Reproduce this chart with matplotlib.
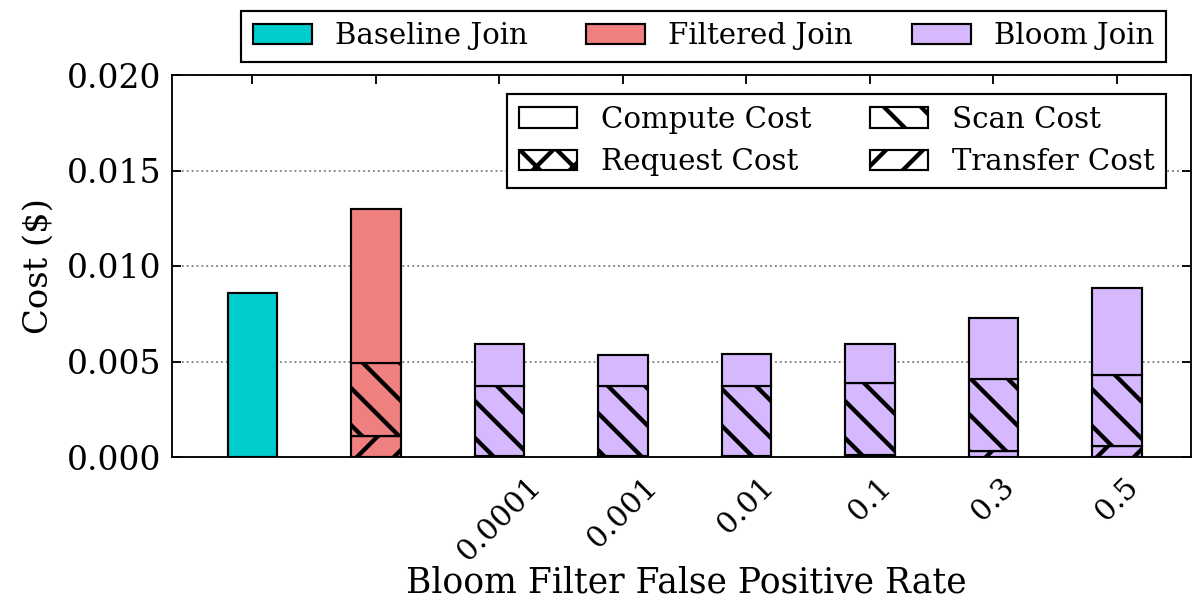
import numpy as np
import matplotlib
matplotlib.use("Agg")
import matplotlib.pyplot as plt
from matplotlib.patches import Patch

plt.rcParams['font.family'] = 'DejaVu Serif'
plt.rcParams['hatch.linewidth'] = 1.4

# bar order: baseline, filtered, then bloom joins by false positive rate
fp_rates = ["", "", "0.0001", "0.001", "0.01", "0.1", "0.3", "0.5"]
transfer = [0.0, 0.0011, 0.00003, 0.00003, 0.00003, 0.0001, 0.0003, 0.00058]
request = [0.0, 0.00002, 0.00001, 0.00001, 0.00001, 0.00001, 0.00001, 0.00001]
scan = [0.0, 0.00378, 0.00368, 0.00368, 0.00368, 0.00376, 0.00377, 0.0037]
compute = [0.0086, 0.0081, 0.0022, 0.00162, 0.00167, 0.00205, 0.0032, 0.00456]

colors = ['#00cccc', '#f08080'] + ['#d6b8ff'] * 6

x = np.arange(len(fp_rates))
w = 0.4

fig = plt.figure(figsize=(1199 / 222, 599 / 222), dpi=222)
ax = fig.add_axes([172 / 1199, 1 - 457 / 599, 1019 / 1199, 382 / 599])

bottom = np.zeros(len(x))
for vals, h in [(transfer, '//'), (request, 'xx'), (scan, '\\\\'), (compute, '')]:
    ax.bar(x, vals, w, bottom=bottom, color=colors, edgecolor='black',
           linewidth=0.7, hatch=h, zorder=3)
    bottom += np.array(vals)

ax.set_xlim(-0.65, 7.6)
ax.set_ylim(0, 0.020)
ax.set_yticks([0, 0.005, 0.010, 0.015, 0.020])
ax.set_yticklabels(['0.000', '0.005', '0.010', '0.015', '0.020'])
ax.set_xticks(x)
ax.set_xticklabels(fp_rates, rotation=45, fontsize=9.7)
ax.tick_params(direction='in', top=True, right=True, length=3, width=0.6)
ax.tick_params(axis='y', labelsize=10.7)
ax.tick_params(axis='x', pad=5)
for s in ax.spines.values():
    s.set_linewidth(0.6)
ax.yaxis.grid(True, linestyle=':', color='gray', linewidth=0.6, zorder=0)
ax.set_axisbelow(True)

ax.set_ylabel('Cost ($)', fontsize=11)
ax.set_xlabel('Bloom Filter False Positive Rate', fontsize=11.2)
ax.xaxis.set_label_coords(0.505, -0.285)

join_handles = [Patch(facecolor=c, edgecolor='black', linewidth=0.7)
                for c in ['#00cccc', '#f08080', '#d6b8ff']]
leg1 = ax.legend(join_handles, ['Baseline Join', 'Filtered Join', 'Bloom Join'],
                 ncol=3, loc='lower right', bbox_to_anchor=(0.9755, 1.034),
                 borderaxespad=0, fancybox=False, framealpha=1, fontsize=9.5,
                 edgecolor='black')
leg1.get_frame().set_linewidth(0.7)
ax.add_artist(leg1)

cost_handles = [Patch(facecolor='white', edgecolor='black', linewidth=0.7, hatch=h)
                for h in ['', 'xx', '\\\\', '//']]
leg2 = ax.legend(cost_handles, ['Compute Cost', 'Request Cost', 'Scan Cost', 'Transfer Cost'],
                 ncol=2, loc='upper right', bbox_to_anchor=(0.9755, 0.95),
                 borderaxespad=0, fancybox=False, framealpha=1, fontsize=9.5,
                 edgecolor='black')
leg2.get_frame().set_linewidth(0.7)

fig.savefig('out.png', dpi=222)
